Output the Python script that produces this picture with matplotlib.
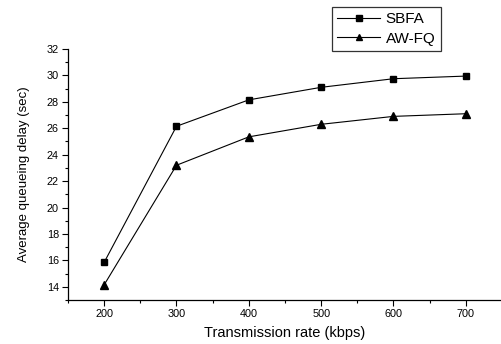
import matplotlib
matplotlib.use("Agg")
import matplotlib.pyplot as plt
from matplotlib.ticker import MultipleLocator

rates = [200, 300, 400, 500, 600, 700]
sbfa = [15.85, 26.15, 28.15, 29.1, 29.75, 29.95]
awfq = [14.15, 23.2, 25.35, 26.3, 26.9, 27.1]

plt.rcParams['font.family'] = ['Liberation Sans', 'DejaVu Sans']

fig = plt.figure(figsize=(5.02, 3.44), dpi=100)
ax = fig.add_axes([68/502, 44/344, 434/502, 251/344])

l1, = ax.plot(rates, sbfa, color='black', lw=0.8, marker='s', ms=4.2, label='SBFA')
l2, = ax.plot(rates, awfq, color='black', lw=0.8, marker='^', ms=5.2, label='AW-FQ')

ax.set_xlim(150, 750)
ax.set_ylim(13, 32)
ax.xaxis.set_minor_locator(MultipleLocator(50))
ax.yaxis.set_minor_locator(MultipleLocator(1))
ax.set_yticks(range(14, 33, 2))
ax.set_xticks(rates)

for s in ['top', 'right']:
    ax.spines[s].set_visible(False)
for s in ['left', 'bottom']:
    ax.spines[s].set_linewidth(0.9)

ax.tick_params(which='major', direction='out', length=4.5, width=0.8, labelsize=7.8, pad=2)
ax.tick_params(which='minor', direction='out', length=2.5, width=0.8)

ax.set_xlabel('Transmission rate (kbps)', fontsize=10.5, labelpad=5)
ax.set_ylabel('Average queueing delay (sec)', fontsize=9.5, labelpad=12)

leg = fig.legend(handles=[l1, l2], loc='upper left', bbox_to_anchor=(332/502, 1 - 7/344),
                 fontsize=11, frameon=True, fancybox=False, edgecolor='black',
                 handlelength=2.8, borderpad=0.35, labelspacing=0.35, handletextpad=0.35,
                 borderaxespad=0, markerscale=0.9)
leg.get_frame().set_linewidth(0.9)

fig.savefig('out.png', dpi=100)
